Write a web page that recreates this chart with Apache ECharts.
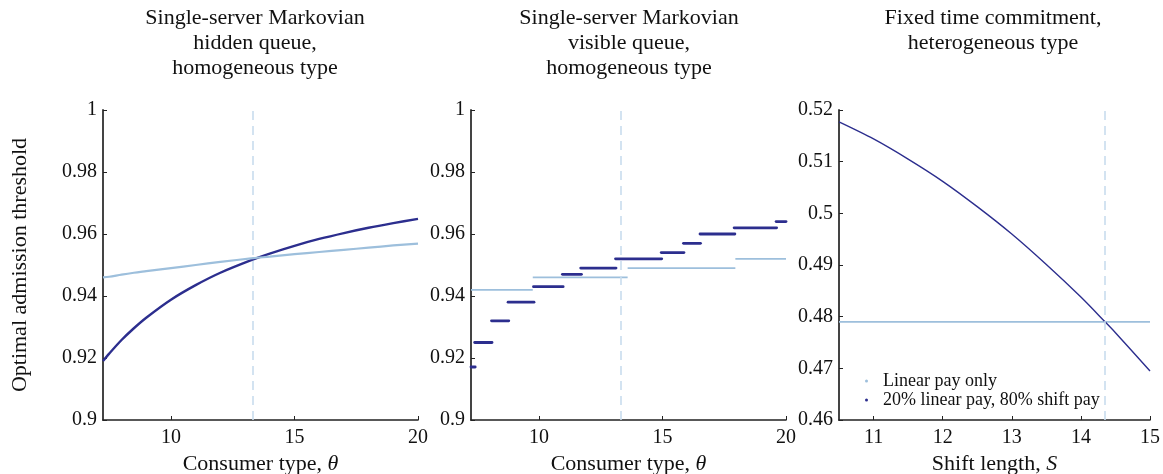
<!DOCTYPE html>
<html>
<head>
<meta charset="utf-8">
<script src="https://cdn.jsdelivr.net/npm/echarts@6/dist/echarts.min.js"></script>
<style>
html,body{margin:0;padding:0;background:#fff;}
#chart{width:1163px;height:474px;}
</style>
</head>
<body>
<div id="chart"></div>
<script>
// ---------- DATA ----------
const panelTitles = [
  'Single-server Markovian\nhidden queue,\nhomogeneous type',
  'Single-server Markovian\nvisible queue,\nhomogeneous type',
  'Fixed time commitment,\nheterogeneous type'
];
const seriesNames = ['Linear pay only', '20% linear pay, 80% shift pay'];

// Panel 1: hidden queue (continuous curves)
const thetaHidden = [7.25, 7.5, 8, 8.5, 9, 10, 11, 12, 13.33, 14, 15, 16, 17, 18, 19, 20];
const mixedPayHidden = [0.919, 0.9214, 0.9258, 0.9296, 0.933, 0.9388, 0.9435, 0.9475, 0.9518, 0.9537, 0.9562, 0.9584, 0.9603, 0.962, 0.9635, 0.9649];
const linearPayHidden = [0.946, 0.9462, 0.9469, 0.9475, 0.948, 0.949, 0.950, 0.951, 0.9522, 0.9527, 0.9535, 0.9542, 0.9549, 0.9556, 0.9563, 0.9569];

// Panel 2: visible queue (step segments)
const mixedStepStart = [7.25, 7.4, 8.08, 8.75, 9.78, 10.95, 11.69, 13.1, 14.95, 15.85, 16.52, 17.9, 19.6];
const mixedStepEnd   = [7.42, 8.1, 8.78, 9.8, 10.98, 11.72, 13.12, 14.97, 15.87, 16.54, 17.93, 19.62, 20];
const mixedStepValue = [0.9171, 0.925, 0.932, 0.938, 0.943, 0.947, 0.949, 0.952, 0.954, 0.957, 0.960, 0.962, 0.964];
const linearStepStart = [7.25, 9.75, 13.59, 17.95];
const linearStepEnd   = [9.75, 13.59, 17.95, 20];
const linearStepValue = [0.942, 0.946, 0.949, 0.952];

// Panel 3: fixed time commitment
const shiftLength = [10.5, 11, 11.5, 12, 12.5, 13, 13.5, 14, 14.35, 14.5, 15];
const mixedPayShift = [0.5177, 0.5144, 0.5105, 0.5062, 0.5013, 0.4960, 0.4901, 0.4838, 0.4790, 0.4769, 0.4695];
const linearPayShift = [0.479, 0.479, 0.479, 0.479, 0.479, 0.479, 0.479, 0.479, 0.479, 0.479, 0.479];

// reference (dashed) lines
const thresholdTheta = 13.33;
const thresholdShift = 14.35;

// axis ticks
const thetaTicks = [10, 15, 20];
const shiftTicks = [11, 12, 13, 14, 15];

// ---------- STYLE ----------
const FONT = '"Liberation Serif", "DejaVu Serif", serif';
const DARK = '#2c2e8e';
const LIGHT = '#9dbfdc';
const DASH = '#c9dcee';
const AXIS = '#222';

const gridLefts = [103, 471, 839];
const gridWidths = [315, 315, 311];

function xAxisCfg(gi, min, max, ticks, name) {
  return {
    type: 'value', gridIndex: gi, min: min, max: max,
    axisLine: {show: true, onZero: false, lineStyle: {color: AXIS, width: 1.6}},
    axisTick: {show: true, inside: true, length: 4, customValues: ticks, lineStyle: {color: AXIS, width: 1}},
    axisLabel: {customValues: ticks, fontFamily: FONT, fontSize: 20, color: '#111', margin: 8},
    splitLine: {show: false},
    name: name, nameLocation: 'middle', nameGap: 31,
    nameTextStyle: {fontFamily: FONT, fontSize: 22, color: '#111',
      rich: {i: {fontFamily: FONT, fontSize: 22, fontStyle: 'italic', color: '#111'}}}
  };
}
function yAxisCfg(gi, min, max, interval, name) {
  const c = {
    type: 'value', gridIndex: gi, min: min, max: max, interval: interval,
    axisLine: {show: true, onZero: false, lineStyle: {color: '#444', width: 2}},
    axisTick: {show: true, inside: true, length: 4, lineStyle: {color: AXIS, width: 1}},
    axisLabel: {fontFamily: FONT, fontSize: 20, color: '#111', margin: 6},
    splitLine: {show: false}
  };
  if (name) {
    c.name = name; c.nameLocation = 'middle'; c.nameGap = 72;
    c.nameTextStyle = {fontFamily: FONT, fontSize: 22, color: '#111'};
  }
  return c;
}
function dashedMark(x) {
  return {
    silent: true, symbol: 'none', label: {show: false},
    lineStyle: {color: DASH, type: [9, 6], width: 1.6},
    data: [{xAxis: x}]
  };
}
function zip(xs, ys) { return xs.map((x, i) => [x, ys[i]]); }

const series = [];
// Panel 1
series.push({type: 'line', xAxisIndex: 0, yAxisIndex: 0, data: zip(thetaHidden, mixedPayHidden),
  showSymbol: false, smooth: 0.3, lineStyle: {color: DARK, width: 2.4}, itemStyle: {color: DARK},
  markLine: dashedMark(thresholdTheta), z: 3});
series.push({type: 'line', xAxisIndex: 0, yAxisIndex: 0, data: zip(thetaHidden, linearPayHidden),
  showSymbol: false, smooth: 0.3, lineStyle: {color: LIGHT, width: 2.2}, itemStyle: {color: LIGHT}, z: 4});
// Panel 2
mixedStepValue.forEach((v, i) => {
  series.push({type: 'line', xAxisIndex: 1, yAxisIndex: 1,
    data: [[mixedStepStart[i], v], [mixedStepEnd[i], v]],
    showSymbol: false, lineStyle: {color: DARK, width: 2.8, cap: 'round'}, itemStyle: {color: DARK}, z: 3,
    markLine: i === 0 ? dashedMark(thresholdTheta) : undefined});
});
linearStepValue.forEach((v, i) => {
  series.push({type: 'line', xAxisIndex: 1, yAxisIndex: 1,
    data: [[linearStepStart[i], v], [linearStepEnd[i], v]],
    showSymbol: false, lineStyle: {color: LIGHT, width: 1.8}, itemStyle: {color: LIGHT}, z: 4});
});
// Panel 3
series.push({name: seriesNames[0], type: 'line', xAxisIndex: 2, yAxisIndex: 2, data: zip(shiftLength, linearPayShift),
  showSymbol: false, lineStyle: {color: LIGHT, width: 1.8}, itemStyle: {color: LIGHT},
  markLine: dashedMark(thresholdShift), z: 3});
series.push({name: seriesNames[1], type: 'line', xAxisIndex: 2, yAxisIndex: 2, data: zip(shiftLength, mixedPayShift),
  showSymbol: false, smooth: 0.3, lineStyle: {color: DARK, width: 1.4}, itemStyle: {color: DARK}, z: 4});

const titleCenters = [255, 629, 993];

const option = {
  animation: false,
  backgroundColor: '#fff',
  grid: gridLefts.map((l, i) => ({left: l, top: 110, width: gridWidths[i], height: 310,
    containLabel: false, outerBoundsMode: 'none'})),
  xAxis: [
    xAxisCfg(0, 7.25, 20, thetaTicks, 'Consumer type, {i|θ}'),
    xAxisCfg(1, 7.25, 20, thetaTicks, 'Consumer type, {i|θ}'),
    xAxisCfg(2, 10.5, 15, shiftTicks, 'Shift length, {i|S}')
  ],
  yAxis: [
    yAxisCfg(0, 0.9, 1, 0.02, 'Optimal admission threshold'),
    yAxisCfg(1, 0.9, 1, 0.02),
    yAxisCfg(2, 0.46, 0.52, 0.01)
  ],
  legend: {
    data: seriesNames, orient: 'vertical', left: 860, top: 367,
    icon: 'circle', itemWidth: 3, itemHeight: 3, itemGap: 1,
    selectedMode: false,
    textStyle: {fontFamily: FONT, fontSize: 18, color: '#111', lineHeight: 18, padding: [0, 0, 0, 10]}
  },
  graphic: panelTitles.map((t, i) => ({
    type: 'text', x: titleCenters[i], y: 6,
    style: {text: t, textAlign: 'center', textVerticalAlign: 'top', fontFamily: FONT, fontSize: 22,
      lineHeight: 25, fill: '#111'}
  })),
  series: series
};

const chart = echarts.init(document.getElementById('chart'), null, {renderer: 'canvas'});
chart.setOption(option);
</script>
</body>
</html>
